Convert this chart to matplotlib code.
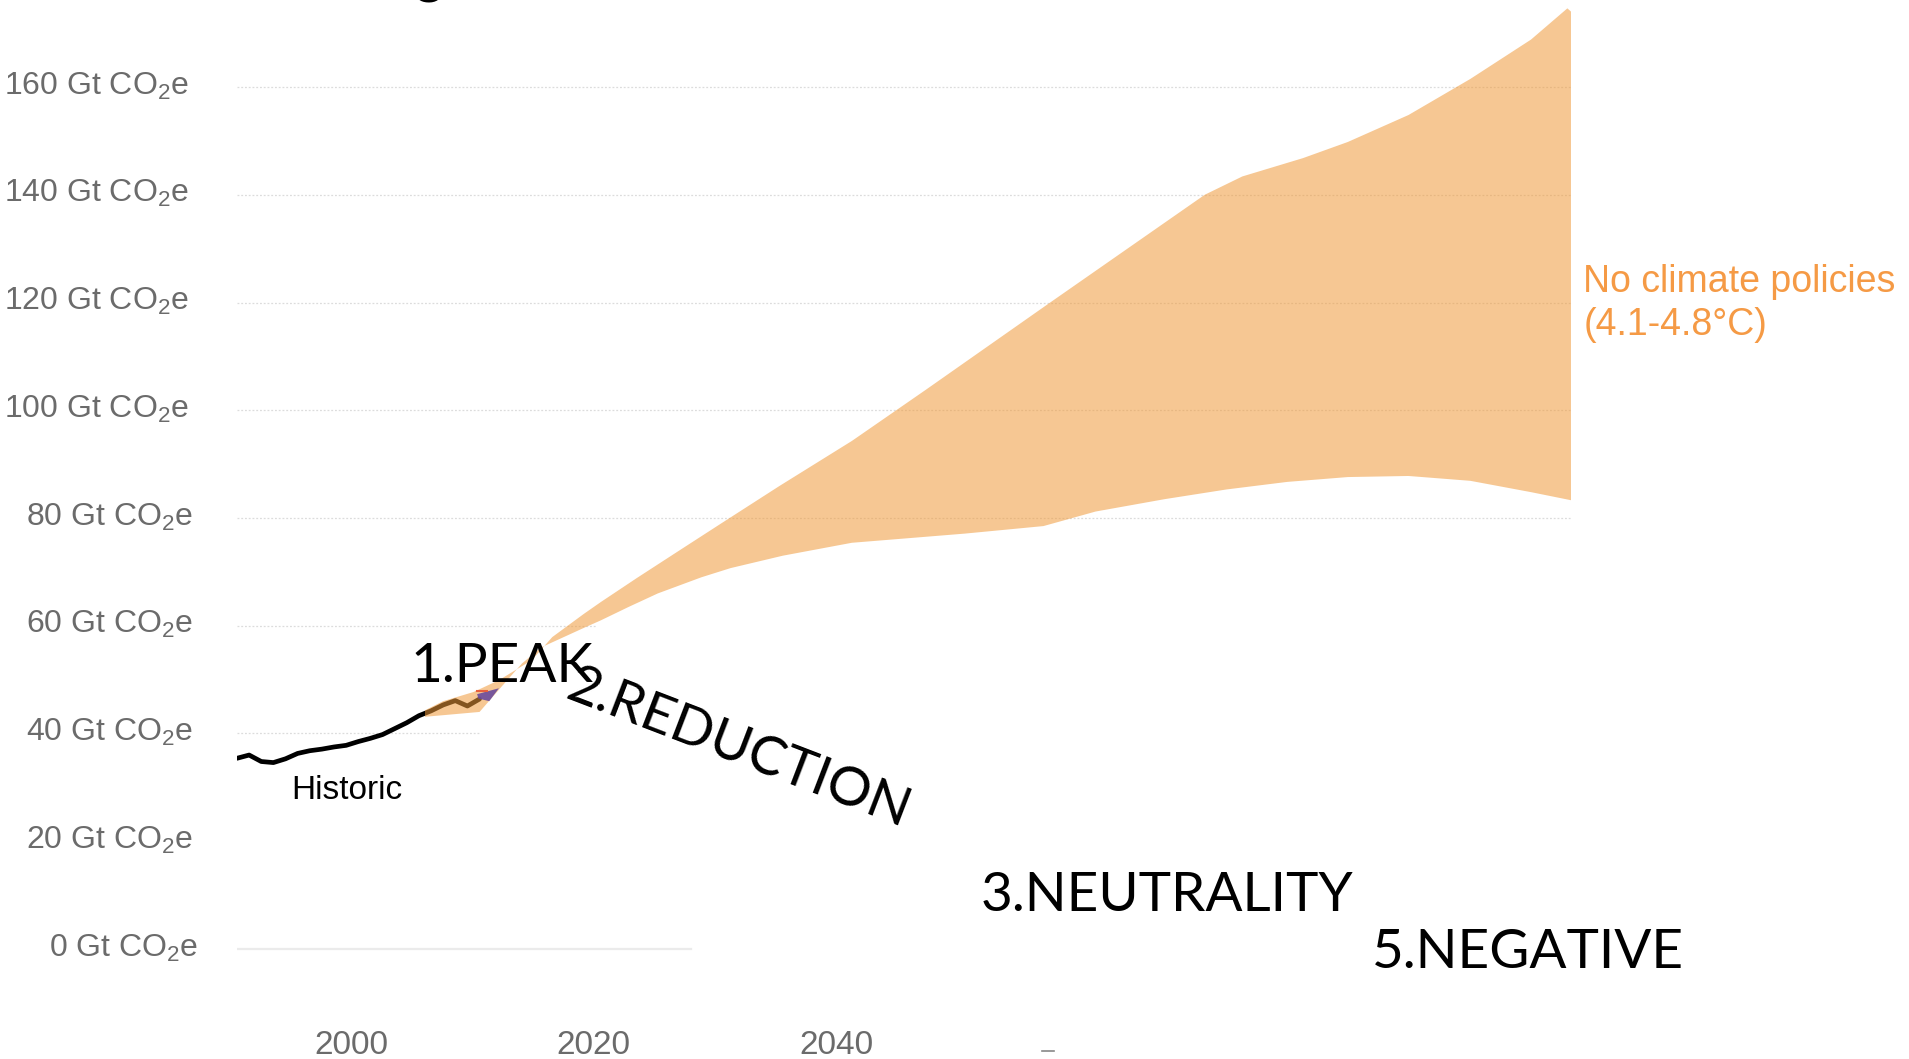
import matplotlib
matplotlib.use("Agg")
import matplotlib.pyplot as plt
from matplotlib.lines import Line2D

plt.rcParams['font.family'] = ['Liberation Sans', 'DejaVu Sans']
plt.rcParams['mathtext.fontset'] = 'custom'
plt.rcParams['mathtext.rm'] = 'Liberation Sans'
plt.rcParams['mathtext.default'] = 'regular'

# historic emissions (Gt CO2e)
hist_years = [1990, 1991, 1992, 1993, 1994, 1995, 1996, 1997, 1998, 1999, 2000,
              2001, 2002, 2003, 2004, 2005, 2006, 2007, 2008, 2009, 2010]
hist_vals = [35.4, 36.0, 34.8, 34.6, 35.3, 36.3, 36.8, 37.1, 37.5, 37.8, 38.5,
             39.1, 39.8, 40.9, 42.0, 43.3, 44.2, 45.3, 46.1, 45.1, 46.4]

# "no climate policies" range
upper_years = [2005.5, 2007, 2009.5, 2011.6, 2014.3, 2016, 2018.6, 2020, 2023,
               2026.7, 2030, 2034.7, 2040.7, 2046.8, 2056.8, 2069.8, 2072.9,
               2077.9, 2081.6, 2086.6, 2091.7, 2096.7, 2099.7, 2100]
upper_vals = [44.3, 46.0, 47.7, 49.9, 53.6, 57.9, 62.2, 64.4, 68.9,
              74.3, 79.1, 85.9, 94.3, 103.8, 119.6, 140.0, 143.4,
              146.8, 149.8, 154.8, 161.5, 168.8, 174.6, 174.0]
lower_years = [2005.5, 2010, 2011.7, 2013.5, 2015.1, 2018.6, 2020, 2022.3, 2024.7,
               2028.3, 2030.7, 2035, 2040.7, 2050, 2056.5, 2060.8, 2066.5, 2071.6,
               2076.6, 2081.6, 2086.6, 2091.7, 2096.7, 2100]
lower_vals = [43.1, 44.0, 48.4, 53.0, 56.0, 59.6, 61.0, 63.5, 66.0,
              69.0, 70.7, 73.0, 75.4, 77.1, 78.5, 81.2, 83.5, 85.3,
              86.7, 87.6, 87.8, 86.9, 84.8, 83.3]

# small current-policy patch
patch_years = [2009.8, 2011.6, 2010.8, 2009.9]
patch_vals = [47.3, 48.4, 46.0, 46.5]

y_ticks = [0, 20, 40, 60, 80, 100, 120, 140, 160]
grid_ends = [2027.4, None, 2010, 2019.6, 2100, 2100, 2100, 2100, 2100]
x_ticks = [2000, 2020, 2040]

W, H = 1909, 1059
fig = plt.figure(figsize=(W / 100, H / 100), dpi=100)
ax = fig.add_axes([237 / W, 0, (1571 - 237) / W, 1])
ax.set_xlim(1990, 2100)
ax.set_ylim(-20.42, 176.15)
ax.axis('off')

# gridlines
for v, end in zip(y_ticks, grid_ends):
    if end is None:
        continue
    if v == 0:
        ax.plot([1990, end], [v, v], color='#ebebeb', lw=1.6, zorder=1)
    else:
        ax.plot([1990, end], [v, v], color='#dcdcdc', lw=0.9, ls=(0, (1.5, 1.5)), zorder=1)

# y labels
for v in y_ticks:
    nd = len(str(v))
    ax.text(1986.0 + 0.4 * (3 - nd), v - 1.4, f"{v} Gt CO$_2$e", ha='right', va='baseline',
            fontsize=23, color='#6b6b6b')

# x labels
for yr in x_ticks:
    ax.text(yr - 0.6, -19.4, str(yr), ha='center', va='baseline', fontsize=24, color='#6b6b6b')

# historic
ax.plot(hist_years, hist_vals, color='black', lw=3.4, zorder=2, solid_capstyle='round')
ax.text(1994.5, 27.8, "Historic", fontsize=24, color='black', va='baseline')

# band
band_x = upper_years + lower_years[::-1]
band_y = upper_vals + lower_vals[::-1]
ax.fill(band_x, band_y, color='#F09A3A', alpha=0.55, lw=0, zorder=3, clip_on=False)

ax.fill(patch_years, patch_vals, color='#6a4b9c', alpha=0.9, lw=0, zorder=4)
ax.plot([2009.8, 2010.6], [47.9, 47.9], color='#e8603c', lw=1.5, zorder=4)

ax.text(2101, 122.0, "No climate policies", fontsize=27, color='#F59A45', va='baseline')
ax.text(2101, 114.0, "(4.1-4.8°C)", fontsize=27, color='#F59A45', va='baseline')

# stage labels
big = dict(fontsize=39.5, color='black', family=['Lato', 'DejaVu Sans'], va='baseline', zorder=6)
ax.text(2004.3, 49.6, "1.PEAK", ha='left', **big)
ax.text(2016.9, 46.5, "2.REDUCTION", ha='left', rotation=-21, rotation_mode='anchor', **big)
ax.text(2051.3, 7.1, "3.NEUTRALITY", ha='left', **big)
ax.text(2083.6, -3.5, "5.NEGATIVE", ha='left', **big)

# remnants cut off by the crop
fig.text(429 / W, 1 + 9 / H, "g", fontsize=40, family=['Lato', 'DejaVu Sans'],
         ha='center', va='baseline', color='black')
fig.add_artist(Line2D([1042 / W, 1054 / W], [1 - 1051 / H, 1 - 1051 / H],
                      color='#888888', lw=1.2))

fig.savefig("out.png", dpi=100)
